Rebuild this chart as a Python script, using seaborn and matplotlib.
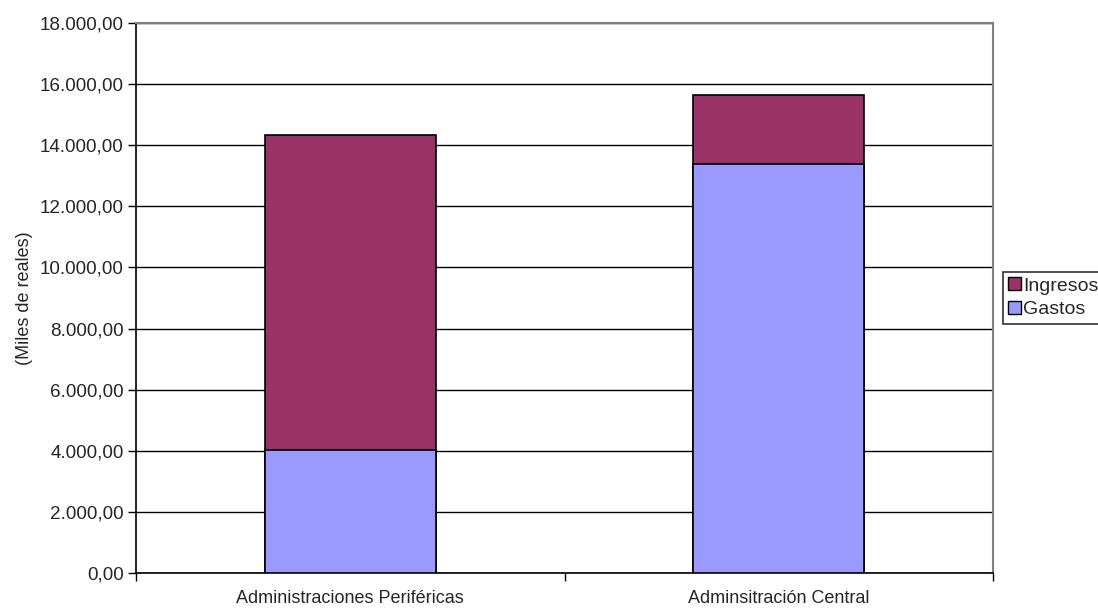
import matplotlib
matplotlib.use("Agg")
import matplotlib.pyplot as plt
import matplotlib.ticker as mticker
from matplotlib.patches import Patch
import seaborn as sns
import pandas as pd

categorias = ["Administraciones Periféricas", "Adminsitración Central"]
gastos = [4040, 13370]
ingresos = [10310, 2290]
yticks = [0, 2000, 4000, 6000, 8000, 10000, 12000, 14000, 16000, 18000]

color_ingresos = "#993366"
color_gastos = "#9999FF"

sns.set_theme(style="white")
plt.rcParams["font.family"] = ["Liberation Sans", "DejaVu Sans"]

FS = 13

df = pd.DataFrame({
    "categoria": categorias,
    "gastos": gastos,
    "total": [g + i for g, i in zip(gastos, ingresos)],
})

fig = plt.figure(figsize=(10.98, 6.09), dpi=100)
ax = fig.add_axes([0.1239, 0.0591, 0.9044 - 0.1239, 0.9622 - 0.0591])

# stacked bars: total (Ingresos on top) first, Gastos drawn over the lower part
sns.barplot(data=df, x="categoria", y="total", color=color_ingresos, width=0.4,
            edgecolor="black", linewidth=1.2, saturation=1, ax=ax, zorder=3)
sns.barplot(data=df, x="categoria", y="gastos", color=color_gastos, width=0.4,
            edgecolor="black", linewidth=1.2, saturation=1, ax=ax, zorder=4)

ax.set_xlim(-0.5, 1.5)
ax.set_ylim(0, 18000)
ax.set_yticks(yticks)
ax.yaxis.set_major_formatter(mticker.FuncFormatter(
    lambda v, p: f"{v:,.2f}".replace(",", "X").replace(".", ",").replace("X", ".")))
ax.grid(axis="y", color="black", linewidth=1, zorder=0)
ax.set_axisbelow(True)

# category labels on minor ticks, tick marks at category boundaries
ax.set_xticks([-0.5, 0.5, 1.5])
ax.set_xticklabels([])
ax.set_xticks([0, 1], minor=True)
ax.set_xticklabels(categorias, minor=True, fontsize=FS)
ax.tick_params(axis="x", which="minor", length=0, pad=12)
ax.tick_params(axis="x", which="major", direction="out", length=6, width=1, color="black", bottom=True)
ax.tick_params(axis="y", direction="out", length=6, width=1, color="black", left=True, labelsize=FS, pad=3)
for lbl in ax.get_yticklabels():
    lbl.set_fontsize(FS + 0.6)

ax.set_xlabel("")
ax.set_ylabel("(Miles de reales)", fontsize=FS, labelpad=5)

for side in ["left", "bottom"]:
    ax.spines[side].set_color("black")
    ax.spines[side].set_linewidth(1.2)
for side in ["top", "right"]:
    ax.spines[side].set_color("#808080")
    ax.spines[side].set_linewidth(1.5)
    ax.spines[side].set_visible(True)

handles = [Patch(facecolor=color_ingresos, edgecolor="black", label="Ingresos"),
           Patch(facecolor=color_gastos, edgecolor="black", label="Gastos")]
leg = fig.legend(handles=handles, loc="upper left", bbox_to_anchor=(0.9135, 0.5534),
                 fontsize=14, frameon=True, fancybox=False, borderpad=0.28,
                 handlelength=0.65, handleheight=0.65, handletextpad=0.1,
                 labelspacing=0.32, borderaxespad=0)
leg.get_frame().set_edgecolor("black")
leg.get_frame().set_linewidth(1.2)

fig.savefig("out.png", dpi=100)
